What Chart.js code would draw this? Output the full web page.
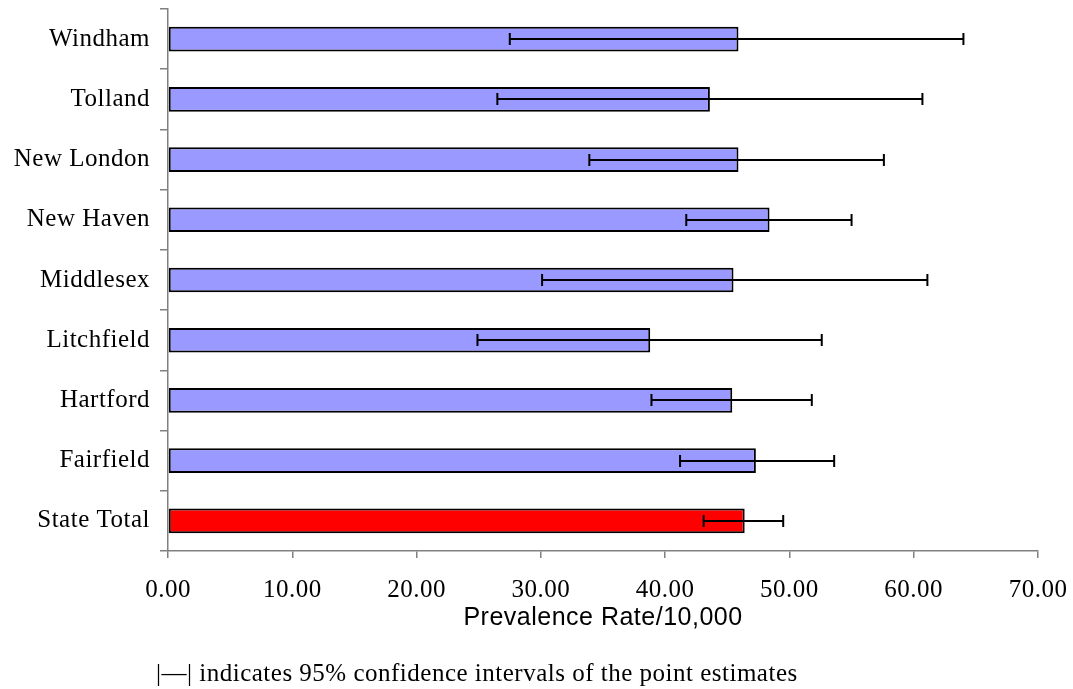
<!DOCTYPE html>
<html>
<head>
<meta charset="utf-8">
<script src="https://cdn.jsdelivr.net/npm/chart.js@4.4.1/dist/chart.umd.min.js"></script>
<style>
  html, body { margin: 0; padding: 0; background: #fff; }
  #wrap { position: relative; width: 1073px; height: 689px; }
  #note {
    position: absolute; left: 156px; top: 658px;
    font-family: 'Liberation Serif', 'Times New Roman', serif;
    font-size: 25px; line-height: 29px; letter-spacing: 0.5px;
    color: #000; white-space: nowrap;
  }
</style>
</head>
<body>
<div id="wrap">
  <canvas id="c" width="1073" height="689"></canvas>
  <div id="note">|—| indicates 95% confidence intervals of the point estimates</div>
</div>
<script>
// Prevalence per 10,000 by county, with 95% confidence limits
const counties = ['Windham', 'Tolland', 'New London', 'New Haven', 'Middlesex',
                  'Litchfield', 'Hartford', 'Fairfield', 'State Total'];
const rates    = [45.9, 43.6, 45.9, 48.4, 45.5, 38.8, 45.4, 47.3, 46.4];
const ciLower  = [27.5, 26.5, 33.9, 41.7, 30.1, 24.9, 38.9, 41.2, 43.1];
const ciUpper  = [64.0, 60.7, 57.6, 55.0, 61.1, 52.6, 51.8, 53.6, 49.5];
const xMin = 0, xMax = 70, xStep = 10;
const countyColor = '#9999FF';
const totalColor = '#FF0000';

const barColors = counties.map(c => c === 'State Total' ? totalColor : countyColor);

// Slightly open letter spacing for all canvas text
const textSpacing = {
  id: 'textSpacing',
  beforeDraw(chart) { chart.ctx.letterSpacing = '0.5px'; }
};

// Draws the confidence-interval whiskers on top of each bar
const ciWhiskers = {
  id: 'ciWhiskers',
  afterDatasetsDraw(chart) {
    const ctx = chart.ctx;
    const xs = chart.scales.x;
    const meta = chart.getDatasetMeta(0);
    const cap = 6;
    ctx.save();
    ctx.strokeStyle = '#000';
    ctx.lineWidth = 2;
    meta.data.forEach((bar, i) => {
      const y = Math.round(bar.y);
      const x1 = xs.getPixelForValue(ciLower[i]);
      const x2 = xs.getPixelForValue(ciUpper[i]);
      ctx.beginPath();
      ctx.moveTo(x1, y); ctx.lineTo(x2, y);
      ctx.moveTo(x1, y - cap); ctx.lineTo(x1, y + cap);
      ctx.moveTo(x2, y - cap); ctx.lineTo(x2, y + cap);
      ctx.stroke();
    });
    ctx.restore();
  }
};

const serif = 'Liberation Serif';
const sans = 'Liberation Sans';

new Chart(document.getElementById('c'), {
  type: 'bar',
  data: {
    labels: counties,
    datasets: [{
      data: rates,
      backgroundColor: barColors,
      borderColor: '#000',
      borderWidth: 2,
      borderSkipped: false,
      categoryPercentage: 1,
      barPercentage: 0.41
    }]
  },
  options: {
    indexAxis: 'y',
    responsive: false,
    animation: false,
    devicePixelRatio: 1,
    layout: { padding: { left: 0, right: 35, top: 9, bottom: 55 } },
    plugins: {
      legend: { display: false },
      tooltip: { enabled: false }
    },
    scales: {
      x: {
        min: xMin, max: xMax,
        grid: { drawOnChartArea: false, drawTicks: true, tickLength: 7, color: '#808080', lineWidth: 1.5 },
        border: { display: true, color: '#808080', width: 1.5 },
        ticks: {
          stepSize: xStep,
          padding: 17,
          color: '#000',
          font: { family: serif, size: 25 },
          callback: v => Number(v).toFixed(2)
        },
        title: {
          display: true,
          text: 'Prevalence Rate/10,000',
          color: '#000',
          font: { family: sans, size: 25 },
          padding: { top: 0, bottom: 1 }
        },
        afterFit: s => { s.height = 83; s.paddingLeft = 0; s.paddingRight = 0; }
      },
      y: {
        grid: { drawOnChartArea: false, drawTicks: true, tickLength: 8, color: '#808080', lineWidth: 1.5, offset: true },
        border: { display: true, color: '#808080', width: 1.5 },
        ticks: {
          padding: 10,
          color: '#000',
          font: { family: serif, size: 25 }
        },
        afterFit: s => { s.width = 168; s.paddingTop = 0; s.paddingBottom = 0; }
      }
    }
  },
  plugins: [textSpacing, ciWhiskers]
});
</script>
</body>
</html>
